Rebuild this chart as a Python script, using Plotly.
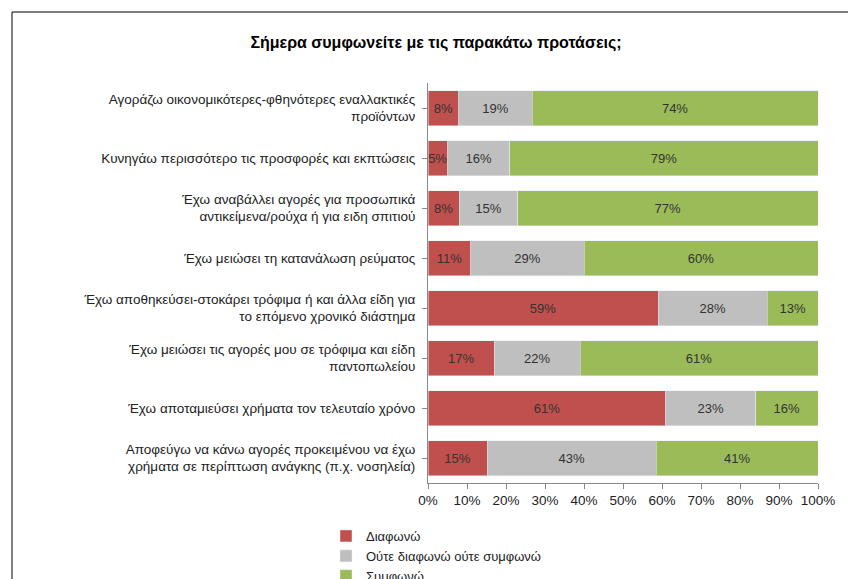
import plotly.graph_objects as go

categories = [
    "Αγοράζω οικονομικότερες-φθηνότερες εναλλακτικές<br>προϊόντων",
    "Κυνηγάω περισσότερο τις προσφορές και εκπτώσεις",
    "Έχω αναβάλλει αγορές για προσωπικά<br>αντικείμενα/ρούχα ή για ειδη σπιτιού",
    "Έχω μειώσει τη κατανάλωση ρεύματος",
    "Έχω αποθηκεύσει-στοκάρει τρόφιμα ή και άλλα είδη για<br>το επόμενο χρονικό διάστημα",
    "Έχω μειώσει τις αγορές μου σε τρόφιμα και είδη<br>παντοπωλείου",
    "Έχω αποταμιεύσει χρήματα τον τελευταίο χρόνο",
    "Αποφεύγω να κάνω αγορές προκειμένου να έχω<br>χρήματα σε περίπτωση ανάγκης (π.χ. νοσηλεία)",
]
disagree = [8, 5, 8, 11, 59, 17, 61, 15]
neutral = [19, 16, 15, 29, 28, 22, 23, 43]
agree = [74, 79, 77, 60, 13, 61, 16, 41]
series = [("Διαφωνώ", disagree, "#C0504D"),
          ("Ούτε διαφωνώ ούτε συμφωνώ", neutral, "#BFBFBF"),
          ("Συμφωνώ", agree, "#9BBB59")]

fig = go.Figure()
for name, vals, col in series:
    fig.add_trace(go.Bar(y=categories, x=vals, name=name, orientation="h",
                         marker=dict(color=col), text=[f"{v}%" for v in vals],
                         textposition="inside", insidetextanchor="middle", textangle=0,
                         constraintext="none",
                         textfont=dict(color="#333333", size=13), cliponaxis=False))

W, H = 390, 400
l, r, t, b = 420, 46, 75, 104
fig.update_layout(
    width=856, height=579, barmode="stack", barnorm="percent", bargap=0.3,
    margin=dict(l=l, r=r, t=t, b=b), plot_bgcolor="white", paper_bgcolor="white",
    font=dict(family="Liberation Sans, Arial", size=13.5, color="#222"),
    title=dict(text="<b>Σήμερα συμφωνείτε με τις παρακάτω προτάσεις;</b>", x=0.5, xanchor="center",
               y=1 - 34 / 579, yanchor="middle", font=dict(size=16, color="black")),
    legend=dict(orientation="h", xref="container", x=0.5, xanchor="center",
                yref="container", y=31 / 579, yanchor="middle",
                font=dict(size=13), traceorder="normal"),
    uniformtext=dict(minsize=13, mode="show"),
    shapes=[dict(type="rect", xref="paper", yref="paper",
                 x0=-(l - 4) / W, x1=1 + (r - 4) / W, y0=-(b - 4) / H, y1=1 + (t - 4) / H,
                 line=dict(color="black", width=1))],
)
fig.update_xaxes(range=[0, 100], dtick=10, ticksuffix="%", showgrid=False, showline=True,
                 linecolor="#888", ticks="outside", tickcolor="#888", ticklen=5, zeroline=False)
fig.update_yaxes(autorange="reversed", showline=True, linecolor="#888", ticks="outside",
                 tickcolor="#888", ticklen=5, ticklabelstandoff=4)
fig.write_html("out.html")
